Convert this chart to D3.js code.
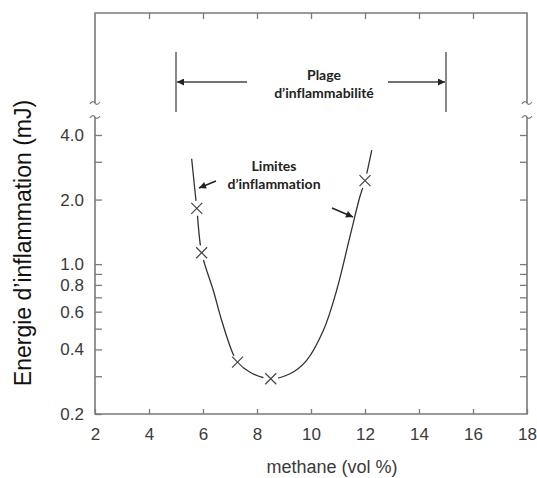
<!DOCTYPE html>
<html>
<head>
<meta charset="utf-8">
<script src="https://cdn.jsdelivr.net/npm/d3@7/dist/d3.min.js"></script>
<style>
  html, body { margin: 0; padding: 0; background: #fff; }
  svg { display: block; }
  text { font-variant-ligatures: none; }
</style>
</head>
<body>
<svg id="chart" width="537" height="478"></svg>
<script>
// ---- data ----
const xTicks = [2, 4, 6, 8, 10, 12, 14, 16, 18];
const yTicks = [0.2, 0.3, 0.4, 0.5, 0.6, 0.7, 0.8, 0.9, 1.0, 2.0, 3.0, 4.0];
const yTickLabels = [0.2, 0.4, 0.6, 0.8, 1.0, 2.0, 4.0];
const markerX = [5.77, 5.95, 7.28, 8.51, 12.0];
const markerY = [1.82, 1.13, 0.349, 0.292, 2.45];
const curveX = [5.58, 5.77, 5.95, 6.38, 6.69, 7.06, 7.28, 7.74, 8.51, 9.22, 9.84, 10.46, 10.95, 11.44, 11.81, 12.0, 12.25];
const curveY = [3.1, 1.82, 1.13, 0.755, 0.547, 0.396, 0.349, 0.313, 0.292, 0.308, 0.356, 0.491, 0.755, 1.34, 2.06, 2.45, 3.4];
const rangeLimits = [5, 15];
const xTitle = "methane (vol %)";
const yTitle = "Energie d\u2019inflammation (mJ)";
const rangeLabel = ["Plage", "d\u2019inflammabilit\u00e9"];
const limitLabel = ["Limites", "d\u2019inflammation"];

// ---- layout ----
const L = 95, R = 527, T = 13, B = 414;
const breakTop = 103, breakBot = 117;
const axisColor = "#7a7a7a";
const textColor = "#3a3a3a";
const sans = "'Liberation Sans', Arial, sans-serif";

const svg = d3.select("#chart");
const x = d3.scaleLinear().domain([2, 18]).range([L, R]);
const y = d3.scaleLog().domain([0.2, 4]).range([B, 135]);

// arrow markers
const defs = svg.append("defs");
defs.append("marker").attr("id", "ah").attr("viewBox", "0 0 10 10")
  .attr("refX", 10).attr("refY", 5).attr("markerWidth", 10).attr("markerHeight", 7)
  .attr("markerUnits", "userSpaceOnUse").attr("orient", "auto")
  .append("path").attr("d", "M0,0 L10,5 L0,10 z").attr("fill", "#222");
defs.append("marker").attr("id", "ah2").attr("viewBox", "0 0 10 10")
  .attr("refX", 10).attr("refY", 5).attr("markerWidth", 12).attr("markerHeight", 7)
  .attr("markerUnits", "userSpaceOnUse").attr("orient", "auto")
  .append("path").attr("d", "M0,0 L10,5 L0,10 z").attr("fill", "#222");

// ---- axes (inward ticks) ----
const fmt = d3.format(".1f");
const xAxis = d3.axisBottom(x).tickValues(xTicks).tickSizeInner(-5).tickSizeOuter(0).tickPadding(14)
  .tickFormat(d3.format("d"));
const gx = svg.append("g").attr("transform", `translate(0,${B})`).call(xAxis);
const xTop = d3.axisTop(x).tickValues(xTicks.slice(1, -1)).tickSizeInner(-6).tickSizeOuter(0).tickFormat("");
const gxt = svg.append("g").attr("transform", `translate(0,${T})`).call(xTop);

const yAxis = d3.axisLeft(y).tickValues(yTicks).tickSizeInner(-7).tickSizeOuter(0).tickPadding(11)
  .tickFormat(d => yTickLabels.some(v => Math.abs(v - d) < 1e-9) ? fmt(d) : "");
const gy = svg.append("g").attr("transform", `translate(${L},0)`).call(yAxis);
const yRight = d3.axisRight(y).tickValues(yTicks.slice(1)).tickSizeInner(-7).tickSizeOuter(0).tickFormat("");
const gyr = svg.append("g").attr("transform", `translate(${R},0)`).call(yRight);

[gx, gxt, gy, gyr].forEach(g => {
  g.select(".domain").remove();
  g.selectAll(".tick line").attr("stroke", axisColor).attr("stroke-width", 1.3);
  g.selectAll(".tick text").attr("fill", textColor)
    .style("font-family", sans).style("font-size", "17px");
});

// frame
const frame = svg.append("g").attr("fill", "none").attr("stroke", axisColor).attr("stroke-width", 1.6);
frame.append("path").attr("d", `M${L},${breakTop} V${T} H${R} V${breakTop}`);
frame.append("path").attr("d", `M${L},${breakBot} V${B} H${R} V${breakBot}`);
// break squiggles
function tilde(cx, cy) {
  return `M${cx - 5},${cy + 1} C${cx - 3},${cy - 2} ${cx - 1},${cy - 2} ${cx},${cy} S${cx + 3},${cy + 2} ${cx + 5},${cy - 1}`;
}
[L, R].forEach(cx => {
  [breakTop, breakBot].forEach(cy => {
    frame.append("path").attr("d", tilde(cx, cy)).attr("stroke-width", 1.2);
  });
});

// ---- curve ----
const pts = curveX.map((v, i) => [x(v), y(curveY[i])]);
svg.append("path").attr("d", d3.line().curve(d3.curveCatmullRom.alpha(0.5))(pts))
  .attr("fill", "none").attr("stroke", "#333").attr("stroke-width", 1.3);

// markers with white halo gap
const mk = svg.append("g");
markerX.forEach((v, i) => {
  const cx = x(v), cy = y(markerY[i]);
  mk.append("circle").attr("cx", cx).attr("cy", cy).attr("r", 7.5).attr("fill", "#fff");
  mk.append("path").attr("d", `M${cx - 5.5},${cy - 5.5} L${cx + 5.5},${cy + 5.5} M${cx - 5.5},${cy + 5.5} L${cx + 5.5},${cy - 5.5}`)
    .attr("stroke", "#444").attr("stroke-width", 1.2);
});

// ---- flammability range annotation ----
const ann = svg.append("g");
rangeLimits.forEach(v => {
  ann.append("line").attr("x1", x(v)).attr("x2", x(v)).attr("y1", 52).attr("y2", 112)
    .attr("stroke", "#555").attr("stroke-width", 1.4);
});
ann.append("line").attr("x1", 247).attr("x2", x(rangeLimits[0]) + 1).attr("y1", 82).attr("y2", 82)
  .attr("stroke", "#444").attr("stroke-width", 1.3).attr("marker-end", "url(#ah2)");
ann.append("line").attr("x1", 388).attr("x2", x(rangeLimits[1]) - 1).attr("y1", 82).attr("y2", 82)
  .attr("stroke", "#444").attr("stroke-width", 1.3).attr("marker-end", "url(#ah2)");
const boldFont = "Lato, 'Open Sans', sans-serif";
function boldText(tx, ty, s) {
  ann.append("text").attr("x", tx).attr("y", ty).attr("text-anchor", "middle")
    .style("font-family", boldFont).style("font-weight", "bold").style("font-size", "14px")
    .attr("fill", "#222").text(s);
}
boldText(324, 80, rangeLabel[0]);
boldText(324, 98, rangeLabel[1]);
boldText(274, 171, limitLabel[0]);
boldText(274, 189, limitLabel[1]);

ann.append("line").attr("x1", 216).attr("y1", 181).attr("x2", 199).attr("y2", 188)
  .attr("stroke", "#222").attr("stroke-width", 1.5).attr("marker-end", "url(#ah)");
ann.append("line").attr("x1", 332).attr("y1", 208).attr("x2", 353).attr("y2", 217)
  .attr("stroke", "#222").attr("stroke-width", 1.5).attr("marker-end", "url(#ah)");

// ---- titles ----
svg.append("text").attr("x", 332).attr("y", 473).attr("text-anchor", "middle")
  .style("font-family", sans).style("font-size", "18px")
  .attr("fill", textColor).text(xTitle);
svg.append("text").attr("transform", "translate(31,243) rotate(-90)").attr("text-anchor", "middle")
  .style("font-family", sans).style("font-size", "23px")
  .attr("fill", "#111").text(yTitle);
</script>
</body>
</html>
